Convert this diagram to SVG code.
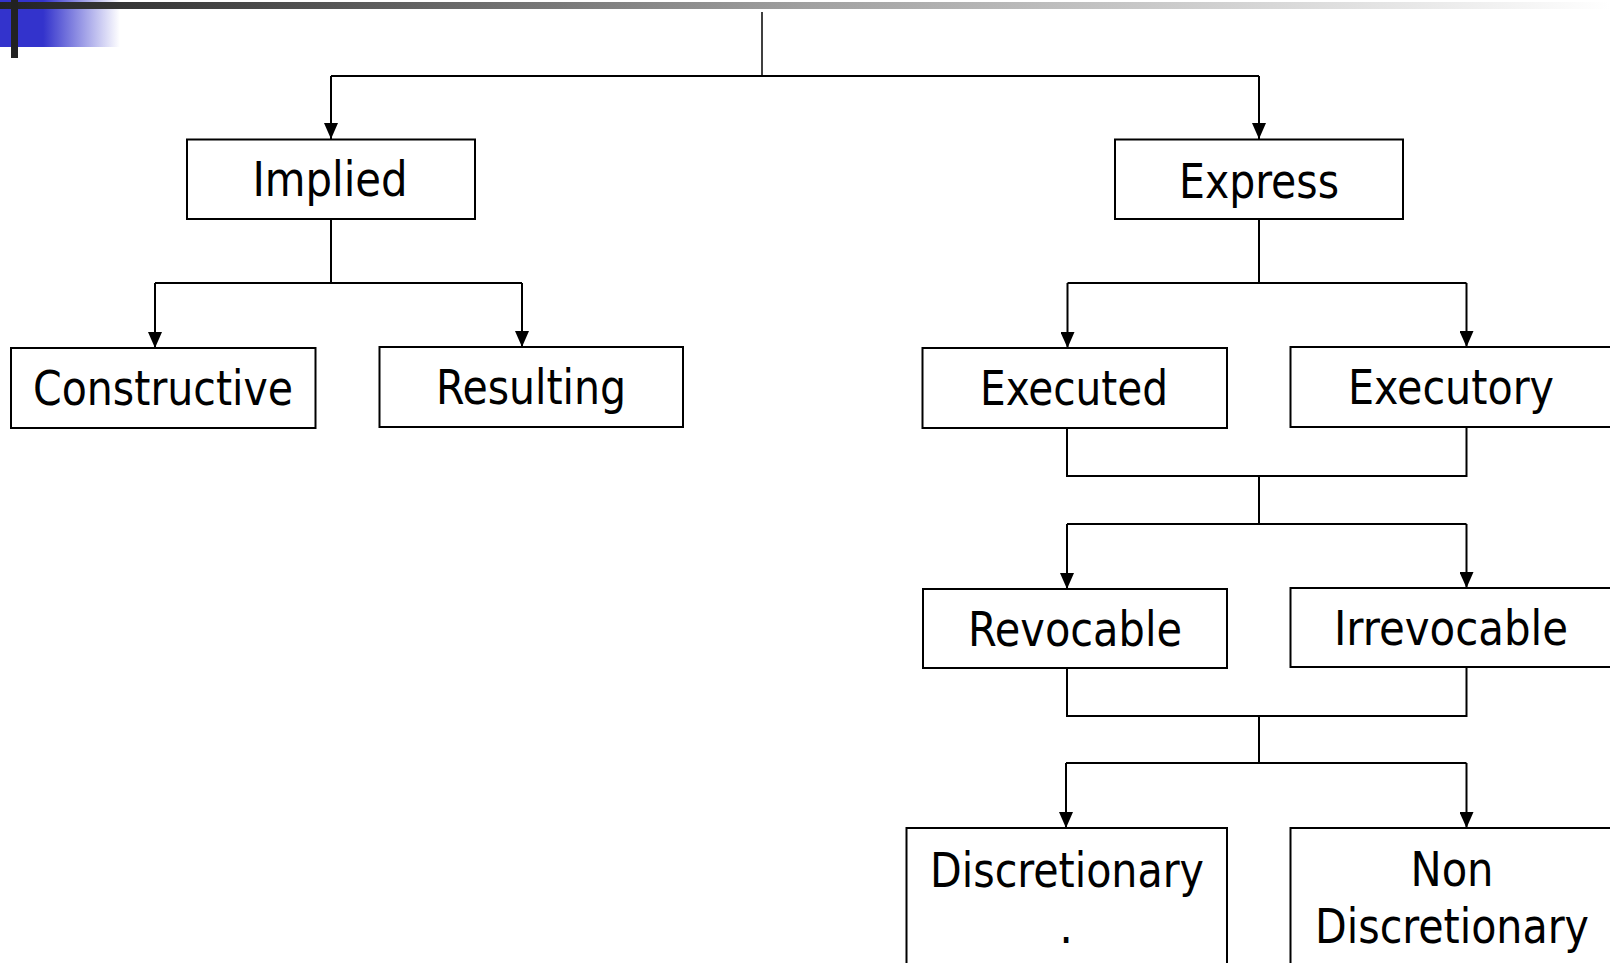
<svg xmlns="http://www.w3.org/2000/svg" width="1610" height="963" viewBox="0 0 1610 963">
<defs>
<linearGradient id="barG" x1="0" y1="0" x2="1" y2="0">
<stop offset="0" stop-color="#222222"/>
<stop offset="0.5" stop-color="#a0a0a0"/>
<stop offset="1" stop-color="#ffffff"/>
</linearGradient>
<linearGradient id="blueG" x1="0" y1="0" x2="1" y2="0">
<stop offset="0" stop-color="#3333cc"/>
<stop offset="0.36" stop-color="#3333cc"/>
<stop offset="1" stop-color="#3333cc" stop-opacity="0"/>
</linearGradient>
<marker id="arr" markerUnits="userSpaceOnUse" markerWidth="16" markerHeight="14" refX="16" refY="7" orient="auto" viewBox="0 0 16 14">
<path d="M0,0 L16,7 L0,14 z" fill="#000"/>
</marker>
<style>
.box{fill:#fff;stroke:#000;stroke-width:2}
.t{font-family:"DejaVu Sans Condensed","DejaVu Sans",sans-serif;font-size:48px;fill:#000;text-anchor:middle}
.c{fill:none;stroke:#000;stroke-width:2}
.a{fill:none;stroke:#000;stroke-width:2;marker-end:url(#arr)}
</style>
</defs>
<rect width="1610" height="963" fill="#fff"/>
<g id="decoration">
<rect x="0" y="0" width="120" height="47" fill="url(#blueG)"/>
<rect x="0" y="2" width="1610" height="7" fill="url(#barG)"/>
<rect x="11" y="0" width="7" height="58" fill="#222"/>
</g>
<g id="connectors">
<path class="c" d="M762,12 V76" style="stroke-width:1.5"/>
<path class="c" d="M331,76 H1259"/>
<path class="a" d="M331,76 V139"/>
<path class="a" d="M1259,76 V139"/>
<path class="c" d="M331,219 V283 M155,283 H522"/>
<path class="a" d="M155,283 V348"/>
<path class="a" d="M522,283 V347"/>
<path class="c" d="M1259,219 V283 M1067.5,283 H1466.5"/>
<path class="a" d="M1067.5,283 V348"/>
<path class="a" d="M1466.5,283 V347"/>
<path class="c" d="M1067,428 V476 H1466.5 V427 M1259,476 V524 M1067,524 H1466.5"/>
<path class="a" d="M1067,524 V589"/>
<path class="a" d="M1466.5,524 V588"/>
<path class="c" d="M1067,668 V716 H1466.5 V667 M1259,716 V763 M1066,763 H1466.5"/>
<path class="a" d="M1066,763 V828"/>
<path class="a" d="M1466.5,763 V828"/>
</g>
<g id="implied">
<rect class="box" x="187" y="139.5" width="288" height="79.5"/>
<text class="t" x="330" y="196" textLength="155" lengthAdjust="spacingAndGlyphs">Implied</text>
</g>
<g id="express">
<rect class="box" x="1115" y="139.5" width="288" height="79.5"/>
<text class="t" x="1259" y="198" textLength="160" lengthAdjust="spacingAndGlyphs">Express</text>
</g>
<g id="constructive">
<rect class="box" x="11" y="348" width="304.5" height="80"/>
<text class="t" x="163" y="405" textLength="260" lengthAdjust="spacingAndGlyphs">Constructive</text>
</g>
<g id="resulting">
<rect class="box" x="379.5" y="347" width="303.5" height="80"/>
<text class="t" x="531" y="404" textLength="190" lengthAdjust="spacingAndGlyphs">Resulting</text>
</g>
<g id="executed">
<rect class="box" x="922.5" y="348" width="304.5" height="80"/>
<text class="t" x="1074" y="405" textLength="188" lengthAdjust="spacingAndGlyphs">Executed</text>
</g>
<g id="executory">
<rect class="box" x="1290.5" y="347" width="340" height="80"/>
<text class="t" x="1451" y="404" textLength="206" lengthAdjust="spacingAndGlyphs">Executory</text>
</g>
<g id="revocable">
<rect class="box" x="923" y="589" width="304" height="79"/>
<text class="t" x="1075" y="646" textLength="214" lengthAdjust="spacingAndGlyphs">Revocable</text>
</g>
<g id="irrevocable">
<rect class="box" x="1290.5" y="588" width="340" height="79"/>
<text class="t" x="1451" y="644.5" textLength="234" lengthAdjust="spacingAndGlyphs">Irrevocable</text>
</g>
<g id="discretionary">
<rect class="box" x="906.5" y="828" width="320.5" height="160"/>
<text class="t" x="1067" y="887" textLength="274" lengthAdjust="spacingAndGlyphs">Discretionary</text>
<text class="t" x="1066" y="943">.</text>
</g>
<g id="non-discretionary">
<rect class="box" x="1290.5" y="828" width="340" height="160"/>
<text class="t" x="1452" y="886" textLength="83" lengthAdjust="spacingAndGlyphs">Non</text>
<text class="t" x="1452" y="943" textLength="274" lengthAdjust="spacingAndGlyphs">Discretionary</text>
</g>
</svg>
